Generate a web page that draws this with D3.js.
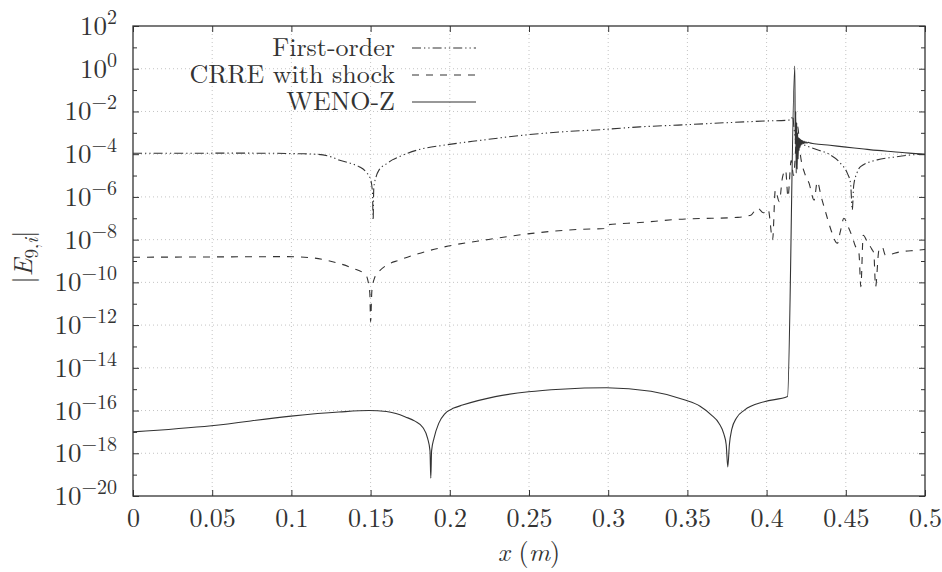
<!DOCTYPE html>
<html>
<head>
<meta charset="utf-8">
<script src="https://cdn.jsdelivr.net/npm/d3@7"></script>
<style>
  html, body { margin: 0; padding: 0; background: #fff; }
  svg { display: block; }
</style>
</head>
<body>
<svg id="chart" width="942" height="572"></svg>
<script>
// Error |E_9,i| along x for three schemes (log scale on y)
const firstOrderX = [0, 0.03, 0.06, 0.09, 0.105, 0.115, 0.125, 0.130, 0.138, 0.1428, 0.147, 0.1501, 0.1512, 0.1516, 0.152, 0.1535, 0.1553, 0.160, 0.1637, 0.168, 0.18, 0.1973, 0.22, 0.2476, 0.27, 0.298, 0.32, 0.344, 0.3734, 0.3985, 0.4153, 0.4165, 0.4172, 0.4185, 0.425, 0.432, 0.4384, 0.4467, 0.451, 0.453, 0.4541, 0.455, 0.457, 0.4593, 0.4698, 0.48, 0.4906, 0.5];
const firstOrderE = [1.1e-4, 1.1e-4, 1.12e-4, 1.1e-4, 1.05e-4, 1.0e-4, 7.5e-5, 5.4e-5, 3.6e-5, 2.6e-5, 1.5e-5, 6.2e-6, 1.5e-6, 8.3e-8, 2.5e-6, 9e-6, 1.8e-5, 3.5e-5, 5.4e-5, 7.6e-5, 1.6e-4, 2.7e-4, 4.5e-4, 7.9e-4, 1.1e-3, 1.45e-3, 1.9e-3, 2.3e-3, 2.95e-3, 3.55e-3, 4.0e-3, 6e-3, 2e-3, 4e-4, 2.5e-4, 1.6e-4, 1.1e-4, 3.7e-5, 1.26e-5, 4.4e-6, 2.5e-7, 3.5e-6, 1.3e-5, 2.6e-5, 5.4e-5, 7.2e-5, 9.1e-5, 1.0e-4];

const crreX = [0, 0.05, 0.0967, 0.1134, 0.126, 0.1386, 0.147, 0.1495, 0.150, 0.1508, 0.1525, 0.1553, 0.160, 0.168, 0.18, 0.1973, 0.2245, 0.2476, 0.2811, 0.2975, 0.2985, 0.32, 0.344, 0.3818, 0.390, 0.3943, 0.398, 0.401, 0.4038, 0.4055, 0.408, 0.410, 0.412, 0.4135, 0.4155, 0.417, 0.4195, 0.4215, 0.424, 0.4268, 0.43, 0.432, 0.4345, 0.4372, 0.4403, 0.4447, 0.4465, 0.4488, 0.4515, 0.454, 0.456, 0.4583, 0.4595, 0.461, 0.4635, 0.4665, 0.4677, 0.4688, 0.4709, 0.473, 0.475, 0.4845, 0.495, 0.5];
const crreE = [1.5e-9, 1.55e-9, 1.6e-9, 1.4e-9, 9.3e-10, 4.6e-10, 2.2e-10, 3.2e-11, 1.45e-12, 4e-11, 1.6e-10, 3.2e-10, 6.3e-10, 1.1e-9, 2.2e-9, 4.7e-9, 1.02e-8, 1.8e-8, 3.0e-8, 3.3e-8, 4.8e-8, 6.3e-8, 8.9e-8, 1.1e-7, 1.4e-7, 3.0e-7, 1.8e-7, 2.6e-7, 1.0e-8, 2.1e-6, 6e-7, 8e-6, 1.8e-5, 1.0e-6, 5e-5, 1e-5, 2.0e-3, 7.6e-5, 1.3e-5, 4.4e-6, 7.1e-7, 5.1e-6, 1e-6, 2.0e-7, 3.4e-8, 6.8e-9, 2.3e-8, 1.0e-7, 4e-8, 1.4e-8, 5e-9, 2.3e-9, 6.3e-11, 1.6e-8, 8e-9, 3.5e-9, 2.3e-9, 6.3e-11, 3.2e-9, 4.5e-9, 1.9e-9, 2.7e-9, 3.2e-9, 3.5e-9];

const wenoX = [0, 0.0495, 0.0998, 0.13, 0.149, 0.16, 0.166, 0.172, 0.178, 0.183, 0.186, 0.1875, 0.188, 0.1885, 0.19, 0.193, 0.197, 0.2025, 0.208, 0.2287, 0.2497, 0.27, 0.299, 0.327, 0.348, 0.358, 0.365, 0.37, 0.373, 0.3745, 0.3755, 0.3765, 0.378, 0.381, 0.386, 0.3985, 0.4132, 0.4178, 0.4181, 0.4184, 0.4187, 0.419, 0.4193, 0.4196, 0.4199, 0.4202, 0.4205, 0.4208, 0.4211, 0.4214, 0.4217, 0.422, 0.4224, 0.4228, 0.4232, 0.4237, 0.4242, 0.4248, 0.4255, 0.4262, 0.427, 0.43, 0.44, 0.4488, 0.46, 0.47, 0.48, 0.49, 0.5];
const wenoE = [1.0e-17, 1.95e-17, 5.5e-17, 8.5e-17, 1.0e-16, 9e-17, 7.2e-17, 5e-17, 3.2e-17, 1.6e-17, 5e-18, 1.3e-18, 6.8e-20, 1.3e-18, 5e-18, 2.5e-17, 7.2e-17, 1.3e-16, 1.8e-16, 4.5e-16, 7.6e-16, 1.0e-15, 1.17e-15, 8e-16, 3.2e-16, 1.6e-16, 6.3e-17, 2.5e-17, 8e-18, 2.5e-18, 2.3e-19, 2.5e-18, 1.3e-17, 4.5e-17, 1.05e-16, 2.6e-16, 4.5e-16, 1.35, 3e-4, 1e-2, 1.3e-5, 3e-3, 2e-5, 1e-3, 6e-5, 6e-4, 1.5e-4, 5.5e-4, 2.2e-4, 5e-4, 2.6e-4, 4.6e-4, 2.9e-4, 4.3e-4, 3.1e-4, 4e-4, 3.2e-4, 3.8e-4, 3.3e-4, 3.6e-4, 3.4e-4, 3.1e-4, 2.6e-4, 2.2e-4, 1.8e-4, 1.5e-4, 1.3e-4, 1.12e-4, 1.0e-4];

const seriesNames = ["First-order", "CRRE with shock", "WENO-Z"];
const xTickValues = [0, 0.05, 0.1, 0.15, 0.2, 0.25, 0.3, 0.35, 0.4, 0.45, 0.5];
const xTickLabels = ["0", "0.05", "0.1", "0.15", "0.2", "0.25", "0.3", "0.35", "0.4", "0.45", "0.5"];
const yTickExponents = [2, 0, -2, -4, -6, -8, -10, -12, -14, -16, -18, -20];
const yMinorExponents = [1, -1, -3, -5, -7, -9, -11, -13, -15, -17, -19];

const W = 942, H = 572;
const margin = { left: 133, right: W - 925, top: 26, bottom: H - 496 };
const FONT = '"Latin Modern Roman", "Liberation Serif", serif';
const ink = "#333";
const svg = d3.select("#chart");
const iw = W - margin.left - margin.right;
const ih = H - margin.top - margin.bottom;

const x = d3.scaleLinear().domain([0, 0.5]).range([margin.left, margin.left + iw]);
const y = d3.scaleLog().domain([1e-20, 1e2]).range([margin.top + ih, margin.top]);

// helper for serif text
function label(parent, size) {
  return parent.append("text").style("font-family", FONT)
    .attr("font-size", size).attr("fill", ink);
}

// dotted grid
const grid = svg.append("g");
grid.selectAll("line.gx").data(xTickValues.slice(1, -1)).join("line")
  .attr("x1", d => x(d)).attr("x2", d => x(d))
  .attr("y1", margin.top).attr("y2", margin.top + ih)
  .attr("stroke", "#c4c4c4").attr("stroke-width", 1).attr("stroke-dasharray", "1,3");
grid.selectAll("line.gy").data(yTickExponents.slice(1, -1)).join("line")
  .attr("x1", margin.left).attr("x2", margin.left + iw)
  .attr("y1", d => y(Math.pow(10, d))).attr("y2", d => y(Math.pow(10, d)))
  .attr("stroke", "#c4c4c4").attr("stroke-width", 1).attr("stroke-dasharray", "1,3");

// series
const styles = [
  { xs: firstOrderX, es: firstOrderE, dash: "9,3,1.3,3,1.3,3", width: 1.1 },
  { xs: crreX, es: crreE, dash: "7,7", width: 1.1 },
  { xs: wenoX, es: wenoE, dash: null, width: 1.1 }
];
const line = d3.line().x(d => x(d[0])).y(d => y(d[1])).curve(d3.curveMonotoneX);
const plot = svg.append("g");
styles.forEach(s => {
  const pts = s.xs.map((v, i) => [v, s.es[i]]);
  plot.append("path").datum(pts)
    .attr("d", line).attr("fill", "none")
    .attr("stroke", ink).attr("stroke-width", s.width)
    .attr("stroke-dasharray", s.dash);
});

// axes: bottom/top and left/right with inward ticks
const fmtX = (d, i) => xTickLabels[i];
const axBottom = svg.append("g").attr("transform", `translate(0,${margin.top + ih})`)
  .call(d3.axisBottom(x).tickValues(xTickValues).tickFormat(fmtX).tickSizeInner(-6).tickSizeOuter(0).tickPadding(13));
const axTop = svg.append("g").attr("transform", `translate(0,${margin.top})`)
  .call(d3.axisTop(x).tickValues(xTickValues).tickFormat("").tickSizeInner(-6).tickSizeOuter(0));
const axLeft = svg.append("g").attr("transform", `translate(${margin.left},0)`)
  .call(d3.axisLeft(y).tickValues(yTickExponents.map(e => Math.pow(10, e))).tickFormat("").tickSizeInner(-6).tickSizeOuter(0));
const axLeftMinor = svg.append("g").attr("transform", `translate(${margin.left},0)`)
  .call(d3.axisLeft(y).tickValues(yMinorExponents.map(e => Math.pow(10, e))).tickFormat("").tickSizeInner(-4).tickSizeOuter(0));
const axRight = svg.append("g").attr("transform", `translate(${margin.left + iw},0)`)
  .call(d3.axisRight(y).tickValues(yTickExponents.map(e => Math.pow(10, e))).tickFormat("").tickSizeInner(-6).tickSizeOuter(0));
const axRightMinor = svg.append("g").attr("transform", `translate(${margin.left + iw},0)`)
  .call(d3.axisRight(y).tickValues(yMinorExponents.map(e => Math.pow(10, e))).tickFormat("").tickSizeInner(-4).tickSizeOuter(0));
[axBottom, axTop, axLeft, axLeftMinor, axRight, axRightMinor].forEach(g => {
  g.select(".domain").remove();
  g.selectAll(".tick line").attr("stroke", ink).attr("stroke-width", 1);
});
axBottom.selectAll(".tick text").style("font-family", FONT)
  .attr("font-size", 26).attr("fill", ink);

// y tick labels as powers of ten
const ylab = svg.append("g");
yTickExponents.forEach(e => {
  const t = label(ylab, 27)
    .attr("x", margin.left - 16).attr("y", y(Math.pow(10, e)) + 9)
    .attr("text-anchor", "end");
  t.append("tspan").text("10");
  t.append("tspan").attr("dy", -11).attr("font-size", 20)
    .text(e < 0 ? "\u2212" + Math.abs(e) : String(e));
});

// frame
svg.append("rect").attr("x", margin.left).attr("y", margin.top)
  .attr("width", iw).attr("height", ih)
  .attr("fill", "none").attr("stroke", ink).attr("stroke-width", 1.3);

// axis titles
const xt = label(svg, 26).attr("x", margin.left + iw / 2).attr("y", 561)
  .attr("text-anchor", "middle");
xt.append("tspan").attr("font-style", "italic").text("x");
xt.append("tspan").text(" (");
xt.append("tspan").attr("font-style", "italic").text("m");
xt.append("tspan").text(")");

const yt = label(svg, 26)
  .attr("transform", `translate(32,${margin.top + ih / 2 - 4}) rotate(-90)`)
  .attr("text-anchor", "middle");
yt.append("tspan").text("|");
yt.append("tspan").attr("font-style", "italic").text("E");
yt.append("tspan").attr("dy", 6).attr("font-size", 19).text("9,");
yt.append("tspan").attr("font-size", 19).attr("font-style", "italic").text("i");
yt.append("tspan").attr("dy", -6).text("|");

// legend
const legend = svg.append("g");
const legendRows = [48, 75, 102];
styles.forEach((s, i) => {
  label(legend, 26).attr("x", 395).attr("y", legendRows[i] + 8)
    .attr("text-anchor", "end").text(seriesNames[i]);
  legend.append("line").attr("x1", 412).attr("x2", 476)
    .attr("y1", legendRows[i]).attr("y2", legendRows[i])
    .attr("stroke", ink).attr("stroke-width", s.width)
    .attr("stroke-dasharray", s.dash);
});
</script>
</body>
</html>
